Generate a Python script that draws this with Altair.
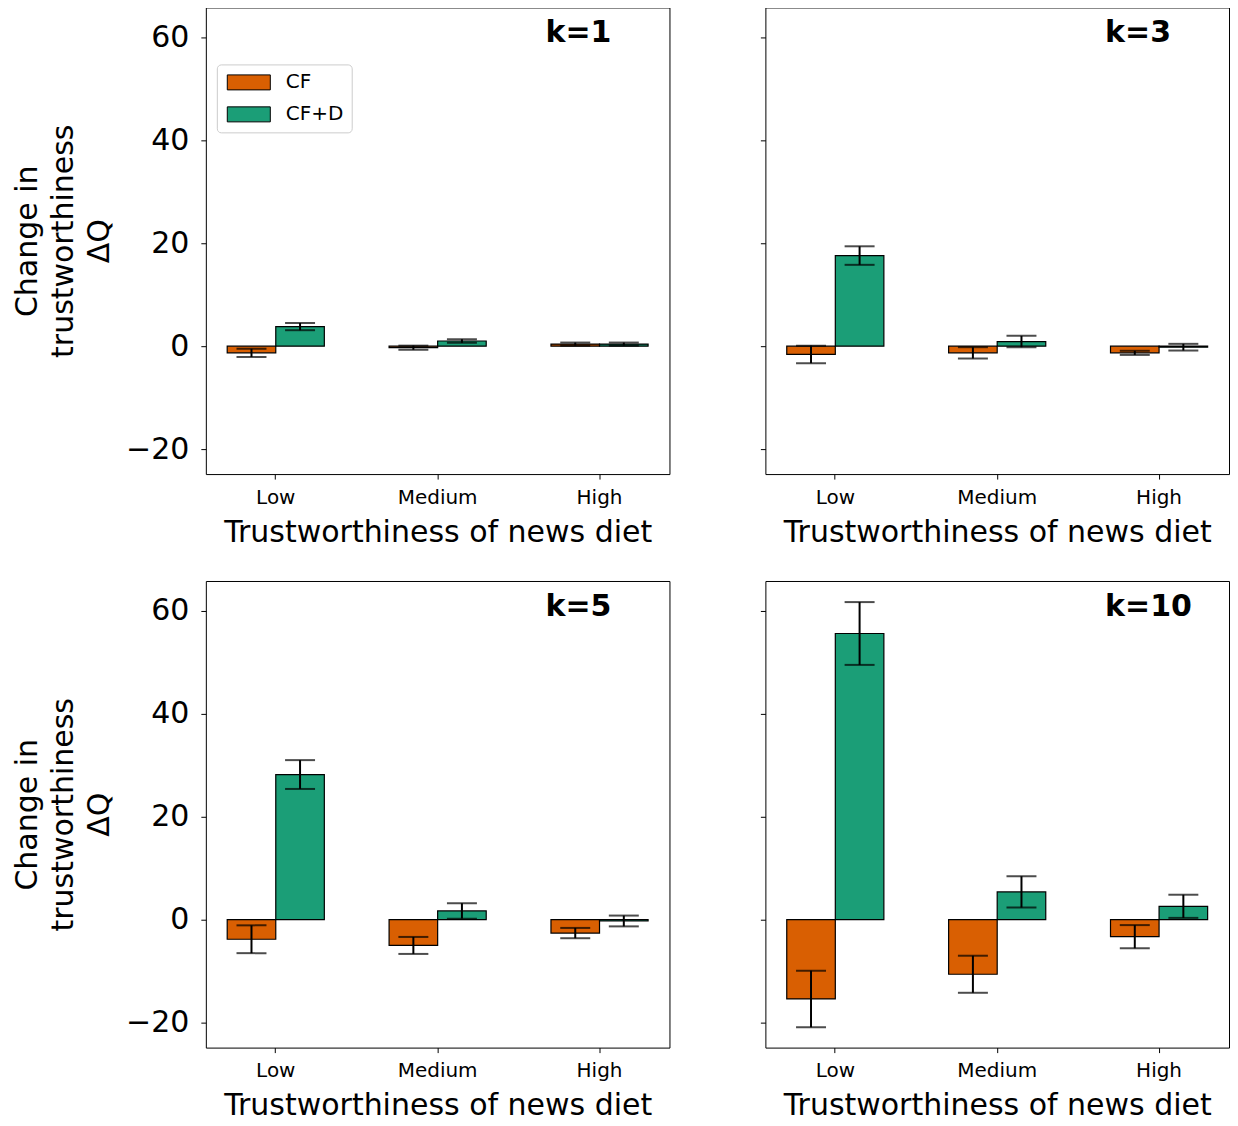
import altair as alt
import pandas as pd

levels = ["Low", "Medium", "High"]
series = ["CF", "CF+D"]
colors = ["#d95f02", "#1b9e77"]
panel_names = ["k=1", "k=3", "k=5", "k=10"]

# mean change and error half-width, per panel, per level (Low, Medium, High)
k1_cf = [-1.3, -0.3, 0.4]
k1_cf_err = [0.8, 0.4, 0.3]
k1_cfd = [3.8, 1.0, 0.4]
k1_cfd_err = [0.7, 0.35, 0.3]

k3_cf = [-1.6, -1.3, -1.3]
k3_cf_err = [1.7, 1.1, 0.4]
k3_cfd = [17.6, 0.9, -0.2]
k3_cfd_err = [1.8, 1.1, 0.65]

k5_cf = [-3.8, -5.0, -2.6]
k5_cf_err = [2.7, 1.65, 1.0]
k5_cfd = [28.2, 1.7, -0.25]
k5_cfd_err = [2.8, 1.5, 1.05]

k10_cf = [-15.4, -10.6, -3.3]
k10_cf_err = [5.5, 3.6, 2.25]
k10_cfd = [55.6, 5.4, 2.6]
k10_cfd_err = [6.1, 3.05, 2.25]

y_ticks = [-20, 0, 20, 40, 60]
y_domain = [-24.85, 65.8]

panel_data = {
    "k=1": (k1_cf, k1_cf_err, k1_cfd, k1_cfd_err),
    "k=3": (k3_cf, k3_cf_err, k3_cfd, k3_cfd_err),
    "k=5": (k5_cf, k5_cf_err, k5_cfd, k5_cfd_err),
    "k=10": (k10_cf, k10_cf_err, k10_cfd, k10_cfd_err),
}

FONT = "DejaVu Sans"
W, H = 464, 467


def make_df(name):
    cf, cf_e, cfd, cfd_e = panel_data[name]
    rows = []
    for i, lev in enumerate(levels):
        rows.append(dict(level=lev, series="CF", mean=cf[i], lo=cf[i] - cf_e[i], hi=cf[i] + cf_e[i], base=0))
        rows.append(dict(level=lev, series="CF+D", mean=cfd[i], lo=cfd[i] - cfd_e[i], hi=cfd[i] + cfd_e[i], base=0))
    return pd.DataFrame(rows)


def panel(name, left, legend):
    d = make_df(name)
    x = alt.X(
        "level:N",
        sort=levels,
        scale=alt.Scale(paddingInner=0.4, paddingOuter=0.132),
        axis=alt.Axis(
            title="Trustworthiness of news diet",
            labelAngle=0,
            labelFontSize=20,
            labelPadding=8,
            titleFontSize=30,
            titlePadding=10,
        ),
    )
    xo = alt.XOffset("series:N", sort=series)
    if left:
        yaxis = alt.Axis(
            values=y_ticks,
            labelFontSize=30,
            labelPadding=12,
            title=["Change in", "trustworthiness", "ΔQ"],
            titleFontSize=30,
            titleLineHeight=36,
            titlePadding=11,
        )
    else:
        yaxis = alt.Axis(values=y_ticks, labels=False, title=None)
    yscale = alt.Scale(domain=y_domain, nice=False)

    if legend:
        leg = alt.Legend(
            orient="none",
            legendX=11,
            legendY=57,
            title=None,
            symbolType="M-2.87,-1H2.87V1H-2.87Z",
            symbolSize=225,
            symbolStrokeColor="black",
            symbolStrokeWidth=1,
            symbolOffset=14,
            labelOffset=27,
            labelFontSize=20,
            labelFont=FONT,
            labelColor="black",
            strokeColor="#cccccc",
            fillColor="white",
            padding=8,
            cornerRadius=4,
            rowPadding=12,
        )
    else:
        leg = None

    base = alt.Chart(d)
    bars = base.mark_bar(stroke="black", strokeWidth=1.2).encode(
        x=x,
        xOffset=xo,
        y=alt.Y("mean:Q", scale=yscale, axis=yaxis),
        y2="base:Q",
        color=alt.Color("series:N", scale=alt.Scale(domain=series, range=colors), legend=leg),
    )
    rules = base.mark_rule(color="black", strokeWidth=2).encode(
        x=x, xOffset=xo, y="lo:Q", y2="hi:Q"
    )
    cap_lo = base.mark_tick(color="black", orient="horizontal", size=30, thickness=2).encode(
        x=x, xOffset=xo, y="lo:Q"
    )
    cap_hi = base.mark_tick(color="black", orient="horizontal", size=30, thickness=2).encode(
        x=x, xOffset=xo, y="hi:Q"
    )
    label = alt.Chart(pd.DataFrame({"t": [name]})).mark_text(
        fontWeight="bold", fontSize=30, font=FONT, align="left", baseline="alphabetic", color="black"
    ).encode(x=alt.value(340), y=alt.value(35), text="t:N")
    return alt.layer(bars, rules, cap_lo, cap_hi, label).properties(width=W, height=H)


p1 = panel("k=1", True, True)
p2 = panel("k=3", False, False)
p3 = panel("k=5", True, False)
p4 = panel("k=10", False, False)

chart = (
    alt.concat(p1, p2, p3, p4, columns=2, spacing={"row": 107, "column": 96}, bounds="flush")
    .resolve_legend(color="independent")
    .properties(padding={"left": 4, "top": -2, "right": 0, "bottom": 0})
    .configure_view(stroke="black", strokeWidth=1)
    .configure_axis(
        domain=False,
        grid=False,
        tickColor="black",
        tickSize=5,
        tickWidth=1,
        labelColor="black",
        titleColor="black",
        labelFont=FONT,
        titleFont=FONT,
        titleFontWeight="normal",
    )
)

chart.save("out.html", embed_options={"renderer": "svg", "actions": False})
